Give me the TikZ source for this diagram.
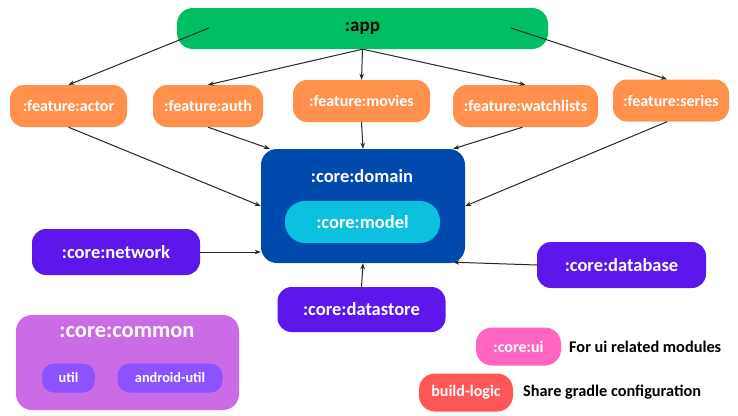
\documentclass[tikz,border=0pt]{standalone}
\usepackage{fontspec}
\setmainfont{Carlito}
\usetikzlibrary{arrows.meta, calc, positioning}
\tikzset{>={Stealth[scale=0.8]}}
\definecolor{appgreen}{HTML}{00BF63}
\definecolor{featorange}{HTML}{FF914D}
\definecolor{domblue}{HTML}{004AAD}
\definecolor{modelcyan}{HTML}{0CC0DF}
\definecolor{corepurple}{HTML}{5E17EB}
\definecolor{commonpink}{HTML}{CB6CE6}
\definecolor{utilviolet}{HTML}{8C52FF}
\definecolor{uipink}{HTML}{FF66C4}
\definecolor{buildred}{HTML}{FF5757}
\tikzset{
  module/.style={rounded corners=14pt, text=white, inner sep=0pt,
    font=\bfseries\fontsize{16}{18}\selectfont},
  feature/.style={module, fill=featorange, minimum height=42pt},
  coremod/.style={module, fill=corepurple, minimum width=168pt, minimum height=46pt,
    font=\bfseries\fontsize{18.5}{20}\selectfont},
  note/.style={anchor=west, inner sep=0pt, font=\bfseries\fontsize{16.3}{18}\selectfont},
  dep/.style={->, line width=1pt, draw=black!85}
}

\begin{document}
\begin{tikzpicture}[x=1pt, y=-1pt]
  \useasboundingbox (0,0) rectangle (738,415);

  % app and features
  \node[module, fill=appgreen, text=black, minimum width=371pt, minimum height=41pt,
    rounded corners=16pt, font=\bfseries\fontsize{19}{21}\selectfont] (app) at (362.5,28.5) {:app};
  \coordinate (appL) at (209,28);
  \coordinate (appR) at (511,28);
  \node[feature, minimum width=117pt] (actor) at (68.5,106) {:feature:actor};
  \node[feature, minimum width=110pt] (auth) at (208,106) {:feature:auth};
  \node[feature, minimum width=137pt] (movies) at (361.5,101) {:feature:movies};
  \node[feature, minimum width=145pt] (watchlists) at (525.5,106) {:feature:watchlists};
  \node[feature, minimum width=116pt] (series) at (671,100.5) {:feature:series};

  % domain
  \node[module, fill=domblue, minimum width=204pt, minimum height=114pt, rounded corners=16pt] (domain) at (363,206) {};
  \node[module, font=\bfseries\fontsize{18.5}{20}\selectfont] (domaintitle) at (362,176) {:core:domain};
  \node[module, fill=modelcyan, minimum width=155pt, minimum height=42pt, rounded corners=20pt,
    font=\bfseries\fontsize{18.5}{20}\selectfont] (model) at (362.5,222) {:core:model};

  % data layer
  \node[coremod] (network) at (116,252) {:core:network};
  \node[coremod, minimum width=169pt] (database) at (621.5,265) {:core:database};
  \node[coremod, minimum height=45pt] (datastore) at (361.5,309.5) {:core:datastore};

  % common
  \node[module, fill=commonpink, minimum width=223pt, minimum height=95pt, rounded corners=16pt] (common) at (127.5,362.5) {};
  \node[module, font=\bfseries\fontsize{22.5}{24}\selectfont] (commontitle) at (127,332) {:core:common};
  \node[module, fill=utilviolet, minimum width=53pt, minimum height=29pt, rounded corners=12pt,
    font=\bfseries\fontsize{14.3}{16}\selectfont] (util) at (68.5,378) {util};
  \node[module, fill=utilviolet, minimum width=105pt, minimum height=29pt, rounded corners=12pt,
    font=\bfseries\fontsize{14.3}{16}\selectfont] (androidutil) at (170,378) {android-util};

  % legend
  \node[module, fill=uipink, minimum width=85pt, minimum height=38pt, rounded corners=16pt] (ui) at (518.5,346.5) {:core:ui};
  \node[note] (uinote) at (569,347) {For ui related modules};
  \node[module, fill=buildred, minimum width=94pt, minimum height=38pt, rounded corners=16pt] (build) at (466,392.5) {build-logic};
  \node[note] (buildnote) at (523,392) {Share gradle configuration};

  % dependencies
  \draw[dep] (appL) -- (actor.north);
  \draw[dep] (app.south) -- (auth.north);
  \draw[dep] (app.south) -- (movies.north);
  \draw[dep] (app.south) -- (watchlists.north);
  \draw[dep] (appR) -- ($(series.north)+(-4,0)$);
  \draw[dep] (actor.south) -- (domain.west);
  \draw[dep] (auth.south) -- ($(domain.north west)+(9,0)$);
  \draw[dep] (movies.south) -- (domain.north);
  \draw[dep] ($(watchlists.south)+(-3,0)$) -- ($(domain.north east)+(-12,0)$);
  \draw[dep] ($(series.south)+(-4,0)$) -- (domain.east);
  \draw[dep] (network.east) -- (network.east -| domain.west);
  \draw[dep] (database.west) -- ($(domain.south east)+(-12,-1)$);
  \draw[dep] (datastore.north) -- (domain.south);
\end{tikzpicture}
\end{document}
